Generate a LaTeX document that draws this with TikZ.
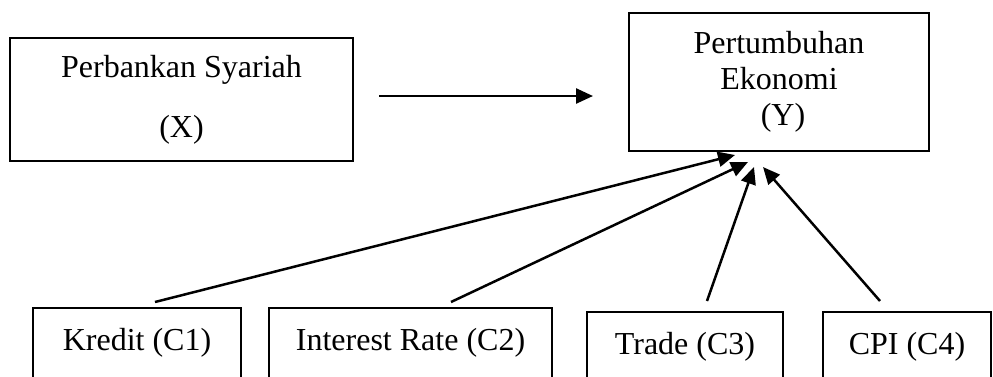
\documentclass[tikz,border=0pt]{standalone}
\usepackage{fontspec}
\setmainfont{Liberation Serif}
\usetikzlibrary{arrows.meta}
\begin{document}
\begin{tikzpicture}[x=1pt,y=-1pt,
  box/.style={draw, line width=1.8pt, inner sep=0pt, align=center,
    font=\fontsize{32}{36}\selectfont},
  lowbox/.style={box, anchor=base, text height=24pt, text depth=60pt,
    inner ysep=18pt},
  link/.style={line width=2.5pt, -{Triangle[length=17pt,width=15pt]}}]
\clip (0,0) rectangle (993,376);

% independent and dependent variables
\node[box, minimum width=343pt, minimum height=123pt,
  font=\fontsize{32}{60}\selectfont] (bank) at (181.5,99.5)
  {Perbankan Syariah\\(X)};
\node[box, minimum width=300pt, minimum height=138pt] (growth) at (779,82)
  {Pertumbuhan\\Ekonomi\\\hspace*{8pt}(Y)};

% control variables
\node[lowbox, minimum width=208pt] (c1) at (137,350) {Kredit (C1)};
\node[lowbox, minimum width=283pt] (c2) at (410.5,350) {Interest Rate (C2)};
\node[lowbox, minimum width=196pt] (c3) at (685,354) {Trade (C3)};
\node[lowbox, minimum width=168pt] (c4) at (907,354) {CPI (C4)};

% connector end points
\coordinate (h0) at (379,96);
\coordinate (h1) at (593,96);
\coordinate (s1) at (155,302);
\coordinate (s2) at (451,302);
\coordinate (s3) at (707,301);
\coordinate (s4) at (880,301);
\coordinate (t1) at (735,155);
\coordinate (t2) at (748,162);
\coordinate (t3) at (754,167);
\coordinate (t4) at (763,167);

\draw[link] (h0) -- (h1);
\draw[link] (s1) -- (t1);
\draw[link] (s2) -- (t2);
\draw[link] (s3) -- (t3);
\draw[link] (s4) -- (t4);
\end{tikzpicture}
\end{document}
